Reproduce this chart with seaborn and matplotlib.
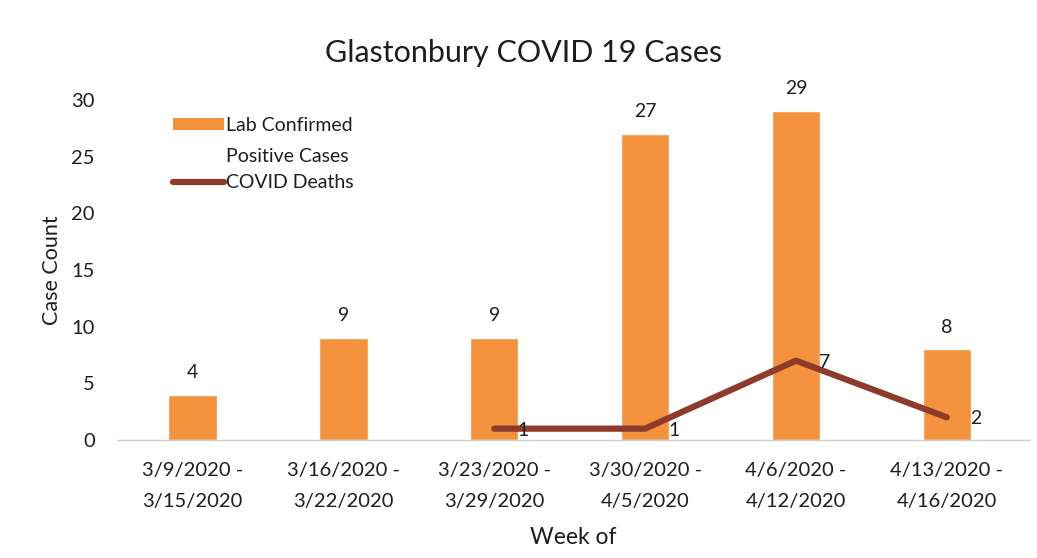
import numpy as np
import pandas as pd
import matplotlib
matplotlib.use("Agg")
import matplotlib.pyplot as plt
import seaborn as sns
from matplotlib.patches import Patch, Rectangle
from matplotlib.lines import Line2D
from matplotlib.legend_handler import HandlerPatch

weeks = ["3/9/2020 -\n3/15/2020", "3/16/2020 -\n3/22/2020", "3/23/2020 -\n3/29/2020",
         "3/30/2020 -\n4/5/2020", "4/6/2020 -\n4/12/2020", "4/13/2020 -\n4/16/2020"]
cases = [4, 9, 9, 27, 29, 8]
deaths = [np.nan, np.nan, 1, 1, 7, 2]

bar_color = "#F5923E"
line_color = "#8E3B2B"
text_color = "#1e1e1e"

sns.set_theme(style="white")
plt.rcParams["font.family"] = ["Lato", "DejaVu Sans"]

fig = plt.figure(figsize=(10.37, 5.58), dpi=100)
ax = fig.add_axes([0.113, 0.2115, 0.88, 0.6095])

df = pd.DataFrame({"week": weeks, "cases": cases, "deaths": deaths, "pos": np.arange(len(weeks))})
sns.barplot(data=df, x="week", y="cases", color=bar_color, saturation=1, width=0.32, ax=ax)
sns.lineplot(data=df.dropna(), x="pos", y="deaths", color=line_color, linewidth=4.5,
             solid_capstyle="round", ax=ax)

for p, v in zip(df["pos"], cases):
    ax.annotate(str(v), (p, v), xytext=(0, 16), textcoords="offset points",
                ha="center", va="center", fontsize=14, color=text_color, annotation_clip=False)
for p, v in zip(df["pos"], deaths):
    if not np.isnan(v):
        ax.annotate(str(int(v)), (p, v), xytext=(21, -1), textcoords="offset points",
                    ha="center", va="center", fontsize=14, color=text_color)

ax.set_ylim(0, 30)
ax.set_xlim(-0.5, len(weeks) - 0.45)
ax.set_yticks([0, 5, 10, 15, 20, 25, 30])
ax.set_xticks(range(len(weeks)))
ax.set_xticklabels(weeks)
ax.tick_params(axis="both", length=0, labelsize=14.5, colors=text_color)
ax.tick_params(axis="y", pad=16)
ax.tick_params(axis="x", pad=16)
ax.set_xlabel("Week of", fontsize=16.5, color=text_color, labelpad=12)
ax.set_ylabel("Case Count", fontsize=15.5, color=text_color, labelpad=7)
for s in ["top", "right", "left"]:
    ax.spines[s].set_visible(False)
ax.spines["bottom"].set_color("#d0d0d0")
ax.spines["bottom"].set_linewidth(1)

fig.suptitle("Glastonbury COVID 19 Cases", x=0.505, y=0.905, va="center", fontsize=22, color=text_color)


def top_patch(legend, orig_handle, xdescent, ydescent, width, height, fontsize):
    # place the swatch next to the first line of the two-line label
    return Rectangle((-xdescent, -ydescent + 12.5), width, height)


handles = [Patch(facecolor=bar_color, edgecolor="none"),
           Line2D([0], [0], color=line_color, linewidth=4.5, solid_capstyle="round")]
labels = ["Lab Confirmed\nPositive Cases", "COVID Deaths"]
leg = ax.legend(handles, labels, loc="upper left", bbox_to_anchor=(0.042, 1.0), frameon=False,
                fontsize=14, handlelength=2.6, handletextpad=0.15, labelspacing=0.45, handleheight=0.6,
                handler_map={Patch: HandlerPatch(patch_func=top_patch)})
for t in leg.get_texts():
    t.set_linespacing(2.0)
    t.set_color(text_color)

fig.canvas.draw()
for t in ax.get_xticklabels():
    t.set_linespacing(2.0)

fig.savefig("out.png", dpi=100)
